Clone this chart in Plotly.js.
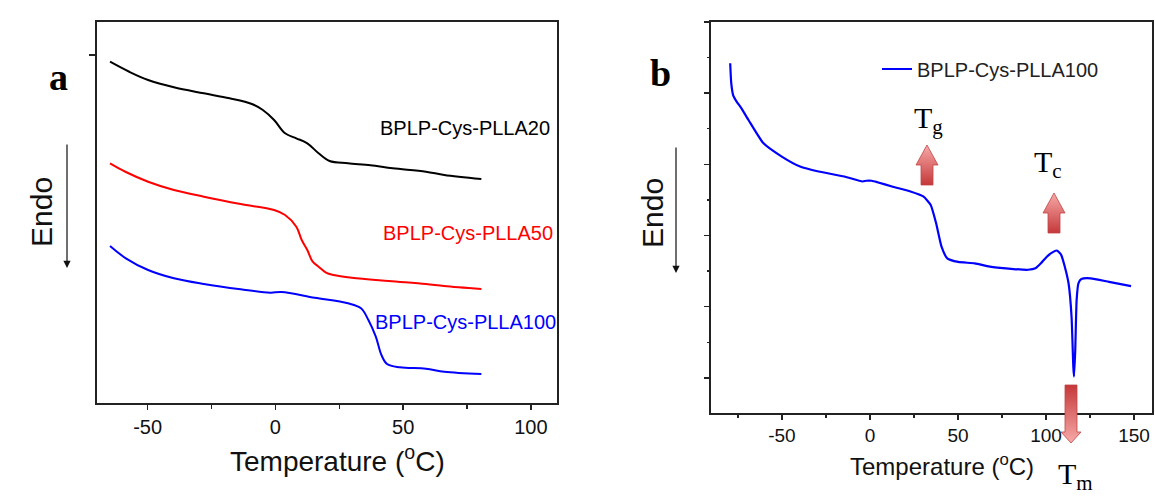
<!DOCTYPE html>
<html><head><meta charset="utf-8">
<script src="https://cdn.plot.ly/plotly-3.0.1.min.js"></script>
<style>html,body{margin:0;padding:0;background:#fff}#chart{width:1155px;height:497px}</style>
</head><body><div id="chart"></div>
<script>
// ---------------- DATA ----------------
// Panel a : DSC traces (temperature in °C, heat flow in arbitrary units)
const seriesNamesA = ['BPLP-Cys-PLLA20', 'BPLP-Cys-PLLA50', 'BPLP-Cys-PLLA100'];
const tempA20 = [-64.7,-57,-49.8,-39.7,-28,-17.9,-9.2,-4.9,-0.5,3.8,8.2,12.5,16.9,21.2,28.4,37.2,45.9,58.9,66.1,80.6];
const heatA20 = [34.13,33.1,32.3,31.57,30.97,30.47,29.9,29.3,28.3,26.97,26.47,25.97,24.97,24.2,23.97,23.77,23.47,23.13,22.8,22.4];
const tempA50 = [-64.7,-58.5,-49.8,-39.7,-28,-13.6,-0.5,3.8,8.2,10.3,12.5,14.6,16.9,19.8,22.7,29.9,44.4,58.9,66,80.6];
const heatA50 = [23.97,23.1,22.13,21.3,20.63,19.9,19.3,18.8,17.63,16.3,15.3,14.13,13.63,13.03,12.8,12.53,12.2,11.9,11.7,11.4];
const tempA100 = [-64.7,-58.5,-49.8,-39.7,-28,-13.6,-2,2.4,15.4,28.4,33.5,36.4,39.3,41.5,43.7,48.7,58.9,66.1,80.6];
const heatA100 = [15.7,14.47,13.3,12.47,11.9,11.37,11.03,11.1,10.53,9.97,9.47,8.3,6.63,4.8,3.9,3.57,3.43,3.13,2.9];
// Panel b : BPLP-Cys-PLLA100
const seriesNameB = 'BPLP-Cys-PLLA100';
const tempB = [-79.4,-78.8,-77.7,-76.2,-73.1,-68.9,-60.6,-50.1,-39.7,-29.2,-14.6,-4.2,-2.1,1.0,4.2,12.5,23.0,30.3,34.5,37.6,40.7,43.9,50.1,59.5,68.9,81.5,89.8,94.0,97.1,100.3,103.4,106.1,108.6,110.7,112.8,114.5,115.5,115.9,116.6,117.4,118.4,120.1,125.3,135.8,148.3];
const heatB = [5.42,5.14,4.97,4.90,4.79,4.62,4.30,4.11,3.97,3.90,3.83,3.76,3.77,3.77,3.75,3.69,3.62,3.55,3.43,3.17,2.84,2.68,2.63,2.61,2.56,2.53,2.52,2.54,2.61,2.70,2.76,2.79,2.73,2.56,2.33,1.86,1.16,1.02,1.39,2.10,2.33,2.39,2.40,2.35,2.29];
// Tick labels (plain hyphen minus, as in the original figure)
const tickValsA = [-50, 0, 50, 100];
const tickTextA = ['-50', '0', '50', '100'];
const minorTickValsA = [-25, 25, 75];
const tickValsB = [-50, 0, 50, 100, 150];
const tickTextB = ['-50', '0', '50', '100', '150'];
const minorTickValsB = [-75, -25, 25, 75, 125];

// ---------------- LAYOUT HELPERS ----------------
const W = 1155, H = 497;
const px = x => x / W, py = y => 1 - y / H;
const SANS = 'Liberation Sans, Arial, sans-serif';
const SERIF = 'Liberation Serif, Times New Roman, serif';

function arrowPoly(cx, tipY, baseY, tailY, hw, sw) {
  return {
    x: [cx, cx + hw, cx + sw, cx + sw, cx - sw, cx - sw, cx - hw, cx],
    y: [tipY, baseY, baseY, tailY, tailY, baseY, baseY, tipY]
  };
}
const LIGHT = '#f7aaa8', DARK = '#c5383a';
const decoArrows = [
  {p: arrowPoly(927, 145, 165, 185, 11, 6), up: true},
  {p: arrowPoly(1054, 193, 213, 233, 11, 6), up: true},
  {p: arrowPoly(1071, 443, 432, 385, 10, 6), up: false}
];

const lineA = {width: 2, shape: 'spline', smoothing: 1};
const traces = [
  {x: tempA20, y: heatA20, name: seriesNamesA[0], type: 'scatter', mode: 'lines', line: Object.assign({color: '#000000'}, lineA), xaxis: 'x', yaxis: 'y', showlegend: false},
  {x: tempA50, y: heatA50, name: seriesNamesA[1], type: 'scatter', mode: 'lines', line: Object.assign({color: '#ff0000'}, lineA), xaxis: 'x', yaxis: 'y', showlegend: false},
  {x: tempA100, y: heatA100, name: seriesNamesA[2], type: 'scatter', mode: 'lines', line: Object.assign({color: '#0000ff'}, lineA), xaxis: 'x', yaxis: 'y', showlegend: false},
  {x: tempB, y: heatB, name: seriesNameB, type: 'scatter', mode: 'lines', line: {color: '#0000ff', width: 2.2, shape: 'spline', smoothing: 0.5}, xaxis: 'x2', yaxis: 'y2', showlegend: true}
];
decoArrows.forEach(a => {
  traces.push({
    x: a.p.x, y: a.p.y, type: 'scatter', mode: 'lines', fill: 'toself',
    line: {color: '#c04545', width: 0.8},
    fillgradient: {type: 'vertical', colorscale: a.up ? [[0, DARK], [1, LIGHT]] : [[0, LIGHT], [1, DARK]]},
    xaxis: 'x3', yaxis: 'y3', showlegend: false, hoverinfo: 'skip'
  });
});

const axCommon = {
  showline: true, mirror: true, linecolor: '#222', linewidth: 1.6,
  showgrid: false, zeroline: false, ticks: 'outside', tickcolor: '#222', tickwidth: 1.4,
  tickfont: {family: SANS, size: 20, color: '#111'}
};

function ann(x, y, text, opts) {
  return Object.assign({x: px(x), y: py(y), xref: 'paper', yref: 'paper', xanchor: 'center', yanchor: 'middle', text: text, showarrow: false}, opts);
}

const annotations = [
  ann(58, 77, '<b>a</b>', {font: {family: SERIF, size: 38, color: '#000'}}),
  ann(660, 73, '<b>b</b>', {font: {family: SERIF, size: 38, color: '#000'}}),
  ann(41, 212, 'Endo', {textangle: -90, font: {family: SANS, size: 30, color: '#111'}}),
  ann(652, 213, 'Endo', {textangle: -90, font: {family: SANS, size: 30, color: '#111'}}),
  ann(378, 128, seriesNamesA[0], {xanchor: 'left', font: {family: SANS, size: 20, color: '#000'}}),
  ann(381, 233, seriesNamesA[1], {xanchor: 'left', font: {family: SANS, size: 20, color: '#ff0000'}}),
  ann(373, 322, seriesNamesA[2], {xanchor: 'left', font: {family: SANS, size: 20, color: '#0000ff'}}),
  ann(337, 459, 'Temperature (<sup>o</sup>C)', {font: {family: SANS, size: 28, color: '#111'}}),
  ann(942, 465, 'Temperature (<sup>o</sup>C)', {font: {family: SANS, size: 24, color: '#111'}}),
  ann(912, 120, 'T<sub>g</sub>', {xanchor: 'left', font: {family: SERIF, size: 30, color: '#000'}}),
  ann(1032, 164, 'T<sub>c</sub>', {xanchor: 'left', font: {family: SERIF, size: 30, color: '#000'}}),
  ann(1056, 476, 'T<sub>m</sub>', {xanchor: 'left', font: {family: SERIF, size: 30, color: '#000'}}),
  // Endo arrows
  {x: px(67), y: py(268), xref: 'paper', yref: 'paper', ax: 0, ay: -125, axref: 'pixel', ayref: 'pixel', text: '', showarrow: true, arrowhead: 2, arrowsize: 1.2, arrowwidth: 1.2, arrowcolor: '#111'},
  {x: px(676), y: py(273), xref: 'paper', yref: 'paper', ax: 0, ay: -127, axref: 'pixel', ayref: 'pixel', text: '', showarrow: true, arrowhead: 2, arrowsize: 1.2, arrowwidth: 1.2, arrowcolor: '#111'}
];

const layout = {
  width: W, height: H,
  margin: {l: 0, r: 0, t: 0, b: 0, pad: 0},
  paper_bgcolor: '#ffffff', plot_bgcolor: 'rgba(0,0,0,0)',
  showlegend: true,
  legend: {x: px(877), y: py(69), xanchor: 'left', yanchor: 'middle', bgcolor: 'rgba(0,0,0,0)', borderwidth: 0,
           font: {family: SANS, size: 20, color: '#222'}},
  xaxis: Object.assign({}, axCommon, {domain: [px(97), px(557)], range: [-69.8, 110.2], anchor: 'y',
           tickmode: 'array', tickvals: tickValsA, ticktext: tickTextA, ticklen: 5,
           minor: {tickmode: 'array', tickvals: minorTickValsA, ticks: 'outside', ticklen: 4, tickcolor: '#222'}}),
  yaxis: Object.assign({}, axCommon, {domain: [py(403), py(22)], range: [0, 38.1], anchor: 'x',
           tickvals: [34.8], showticklabels: false, ticklen: 6}),
  xaxis2: Object.assign({}, axCommon, {domain: [px(711), px(1152)], range: [-90.3, 160.2], anchor: 'y2',
           tickmode: 'array', tickvals: tickValsB, ticktext: tickTextB, ticklen: 5,
           tickfont: {family: SANS, size: 19, color: '#111'},
           minor: {tickmode: 'array', tickvals: minorTickValsB, ticks: 'outside', ticklen: 3, tickcolor: '#222'}}),
  yaxis2: Object.assign({}, axCommon, {domain: [py(413), py(22)], range: [0.508, 6.0], anchor: 'x2',
           dtick: 1, tick0: 0, ticklen: 5, showticklabels: false,
           minor: {dtick: 0.5, ticks: 'outside', ticklen: 2.5, tickcolor: '#222'}}),
  xaxis3: {domain: [0, 1], range: [0, W], visible: false, anchor: 'y3', fixedrange: true},
  yaxis3: {domain: [0, 1], range: [H, 0], visible: false, anchor: 'x3', fixedrange: true},
  annotations: annotations
};

Plotly.newPlot('chart', traces, layout, {staticPlot: true, displayModeBar: false});
</script></body></html>
